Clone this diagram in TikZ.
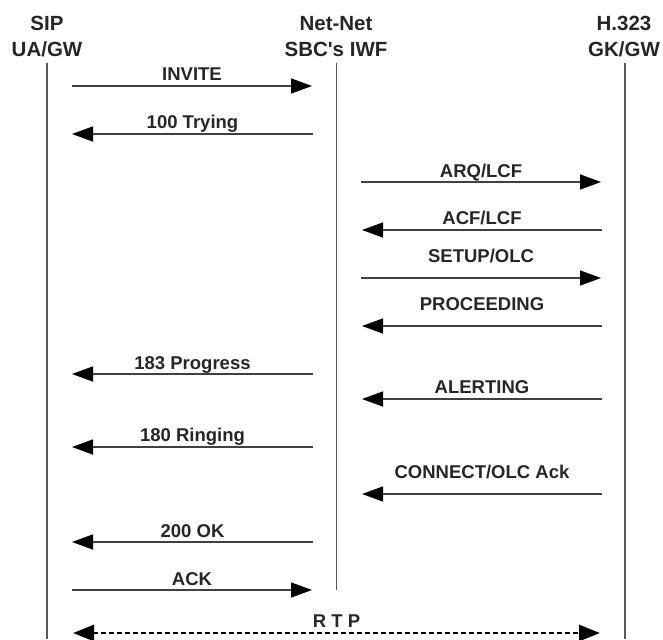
\documentclass[tikz,border=0pt]{standalone}
\usepackage{fontspec}
\setmainfont{Liberation Sans}
\usetikzlibrary{arrows.meta}
\begin{document}
\begin{tikzpicture}[x=1pt,y=-1pt,
  hdr/.style={font=\fontsize{20.5}{26}\selectfont\bfseries, align=center, inner sep=0pt, text=black!85},
  lbl/.style={font=\fontsize{18.5}{20}\selectfont\bfseries, inner sep=0pt, anchor=base, text=black!85},
  life/.style={draw=black!65, line width=1.2pt},
  msg/.style={draw=black!75, line width=1.4pt, -{Triangle[length=21pt,width=15pt,color=black]}},
  rtp/.style={draw=black, line width=2.6pt, dash pattern=on 4.5pt off 3.5pt,
     {Triangle[length=21pt,width=16pt]}-{Triangle[length=21pt,width=16pt]}}
]
\useasboundingbox (0,0) rectangle (663,639);
% headers
\node[hdr, anchor=base] (sip) at (47,57) {SIP\\UA/GW};
\node[hdr, anchor=base] (iwf) at (336,57) {Net-Net\\SBC\textquotesingle s IWF};
\node[hdr, anchor=base] (h323) at (624,57) {H.323\\GK/GW};
% lifelines
\coordinate (sipT) at (47,63);   \coordinate (sipB) at (47,639);
\coordinate (iwfT) at (336.5,63); \coordinate (iwfB) at (336.5,590);
\coordinate (hT) at (625,63);    \coordinate (hB) at (625,639);
\draw[life] (sipT) -- (sipB);
\draw[life] (iwfT) -- (iwfB);
\draw[life] (hT) -- (hB);
% left messages
\coordinate (L1a) at (72,86);  \coordinate (L1b) at (312,86);
\draw[msg] (L1a) -- node[lbl, yshift=5.5pt] (m1) {INVITE} (L1b);
\coordinate (L2a) at (313,134); \coordinate (L2b) at (72,134);
\draw[msg] (L2a) -- node[lbl, yshift=5pt] (m2) {100 Trying} (L2b);
% right messages
\coordinate (R1a) at (361,182); \coordinate (R1b) at (601,182);
\draw[msg] (R1a) -- node[lbl, yshift=5pt] (m3) {ARQ/LCF} (R1b);
\coordinate (R2a) at (602,230); \coordinate (R2b) at (362,230);
\draw[msg] (R2a) -- node[lbl, yshift=6pt] (m4) {ACF/LCF} (R2b);
\coordinate (R3a) at (361,278); \coordinate (R3b) at (601,278);
\draw[msg] (R3a) -- node[lbl, yshift=16pt] (m5) {SETUP/OLC} (R3b);
\coordinate (R4a) at (602,326); \coordinate (R4b) at (362,326);
\draw[msg] (R4a) -- node[lbl, yshift=16pt] (m6) {PROCEEDING} (R4b);
\coordinate (L3a) at (313,374); \coordinate (L3b) at (72,374);
\draw[msg] (L3a) -- node[lbl, yshift=5pt] (m7) {183 Progress} (L3b);
\coordinate (R5a) at (602,399); \coordinate (R5b) at (362,399);
\draw[msg] (R5a) -- node[lbl, yshift=6pt] (m8) {ALERTING} (R5b);
\coordinate (L4a) at (313,447); \coordinate (L4b) at (72,447);
\draw[msg] (L4a) -- node[lbl, yshift=6pt] (m9) {180 Ringing} (L4b);
\coordinate (R6a) at (602,494); \coordinate (R6b) at (362,494);
\draw[msg] (R6a) -- node[lbl, yshift=16pt] (m10) {CONNECT/OLC Ack} (R6b);
\coordinate (L5a) at (313,542); \coordinate (L5b) at (72,542);
\draw[msg] (L5a) -- node[lbl, yshift=5pt] (m11) {200 OK} (L5b);
\coordinate (L6a) at (72,590); \coordinate (L6b) at (312,590);
\draw[msg] (L6a) -- node[lbl, yshift=5pt] (m12) {ACK} (L6b);
% RTP
\coordinate (Pa) at (73,633); \coordinate (Pb) at (600,633);
\draw[rtp] (Pa) -- node[lbl, yshift=6pt] (m13) {R T P} (Pb);
\end{tikzpicture}
\end{document}
